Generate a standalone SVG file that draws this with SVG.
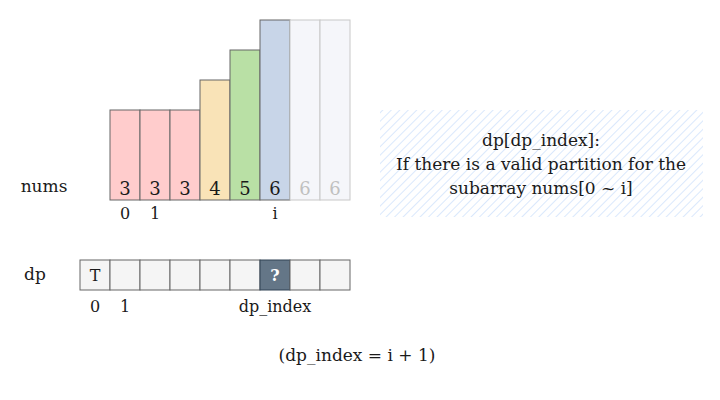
<svg xmlns="http://www.w3.org/2000/svg" width="720" height="400" viewBox="0 0 720 400">
<style>
text{font-family:"DejaVu Serif","Liberation Serif",serif;fill:#1a1a1a}
.num{font-size:18px;text-anchor:middle}
.lbl{font-size:16px;text-anchor:middle}
.big{font-size:17px}
.bar{stroke:#666;stroke-width:1}
.ghost{fill:#f5f6fa;stroke:#c8c8c8;stroke-width:1}
.cell{fill:#f5f5f5;stroke:#666;stroke-width:1}
</style>
<defs>
<pattern id="hatch" width="6" height="6" patternUnits="userSpaceOnUse" patternTransform="rotate(45)">
<rect width="6" height="6" fill="#ffffff"/>
<line x1="0" y1="0" x2="0" y2="6" stroke="#dae8fc" stroke-width="2"/>
</pattern>
</defs>
<rect width="720" height="400" fill="#fff"/>
<g id="nums-label"><text x="44" y="192" class="lbl big">nums</text></g>
<g id="bars">
<g id="bar0"><rect class="bar" x="110" y="110" width="30" height="90" fill="#ffcccc"/><text class="num" x="125" y="195">3</text></g>
<g id="bar1"><rect class="bar" x="140" y="110" width="30" height="90" fill="#ffcccc"/><text class="num" x="155" y="195">3</text></g>
<g id="bar2"><rect class="bar" x="170" y="110" width="30" height="90" fill="#ffcccc"/><text class="num" x="185" y="195">3</text></g>
<g id="bar3"><rect class="bar" x="200" y="80" width="30" height="120" fill="#f9e3b7"/><text class="num" x="215" y="195">4</text></g>
<g id="bar4"><rect class="bar" x="230" y="50" width="30" height="150" fill="#b9e0a5"/><text class="num" x="245" y="195">5</text></g>
<g id="bar5"><rect class="bar" x="260" y="20" width="30" height="180" fill="#c8d5e8"/><text class="num" x="275" y="195">6</text></g>
<g id="bar6"><rect class="ghost" x="290" y="20" width="30" height="180"/><text class="num" x="305" y="195" style="fill:#c0c0c0">6</text></g>
<g id="bar7"><rect class="ghost" x="320" y="20" width="30" height="180"/><text class="num" x="335" y="195" style="fill:#c0c0c0">6</text></g>
</g>
<g id="nums-index">
<text class="lbl" x="125" y="219">0</text>
<text class="lbl" x="155" y="219">1</text>
<text class="lbl" x="275" y="219">i</text>
</g>
<g id="note">
<rect x="380" y="110" width="323" height="107" fill="url(#hatch)"/>
<text x="541" y="146" class="lbl big">dp[dp_index]:</text>
<text x="541" y="170" class="lbl big">If there is a valid partition for the</text>
<text x="541" y="194" class="lbl big">subarray nums[0 ~ i]</text>
</g>
<g id="dp-label"><text x="35" y="280" class="lbl big">dp</text></g>
<g id="dp-cells">
<g id="dp0"><rect class="cell" x="80" y="260" width="30" height="30"/><text class="lbl" x="95" y="281">T</text></g>
<g id="dp1"><rect class="cell" x="110" y="260" width="30" height="30"/></g>
<g id="dp2"><rect class="cell" x="140" y="260" width="30" height="30"/></g>
<g id="dp3"><rect class="cell" x="170" y="260" width="30" height="30"/></g>
<g id="dp4"><rect class="cell" x="200" y="260" width="30" height="30"/></g>
<g id="dp5"><rect class="cell" x="230" y="260" width="30" height="30"/></g>
<g id="dp6"><rect x="260" y="260" width="30" height="30" fill="#647687" stroke="#314354"/><text class="lbl" x="275" y="281" style="fill:#fff;font-weight:bold">?</text></g>
<g id="dp7"><rect class="cell" x="290" y="260" width="30" height="30"/></g>
<g id="dp8"><rect class="cell" x="320" y="260" width="30" height="30"/></g>
</g>
<g id="dp-index">
<text class="lbl" x="95" y="312">0</text>
<text class="lbl" x="125" y="312">1</text>
<text class="lbl" x="275" y="312">dp_index</text>
</g>
<g id="formula"><text class="lbl big" x="357" y="361">(dp_index = i + 1)</text></g>
<g id="connectors"></g>
</svg>
